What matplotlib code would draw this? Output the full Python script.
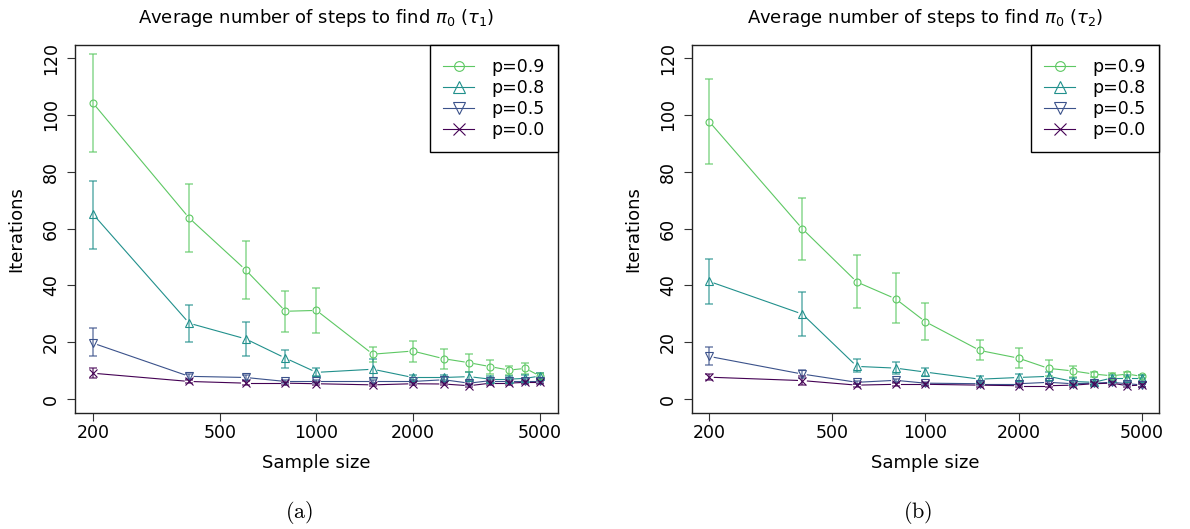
import numpy as np
import matplotlib
matplotlib.use("Agg")
import matplotlib.pyplot as plt
from matplotlib.lines import Line2D
from matplotlib.ticker import FixedLocator, FixedFormatter, NullLocator

plt.rcParams["font.family"] = ["DejaVu Sans"]

sample_size = [200, 400, 600, 800, 1000, 1500, 2000, 2500, 3000, 3500, 4000, 4500, 5000]
x_ticks = [200, 500, 1000, 2000, 5000]
y_ticks = [0, 20, 40, 60, 80, 100, 120]
labels = ["p=0.9", "p=0.8", "p=0.5", "p=0.0"]
colors = ["#5DC863", "#21908C", "#3B528B", "#440154"]
markers = ["o", "^", "v", "x"]
titles = [r"Average number of steps to find $\pi_0$ ($\tau_1$)",
          r"Average number of steps to find $\pi_0$ ($\tau_2$)"]
captions = ["(a)", "(b)"]

# panel (a), tau_1
tau1_p09 = [104.2, 63.7, 45.5, 30.9, 31.2, 15.8, 16.9, 14.2, 12.8, 11.4, 10.2, 10.8, 8.1]
tau1_p09_lo = [86.8, 51.6, 35.2, 23.6, 23.3, 13.0, 13.1, 10.6, 9.4, 9.0, 8.4, 8.7, 6.9]
tau1_p09_hi = [121.5, 75.8, 55.6, 37.9, 39.1, 18.5, 20.4, 17.6, 16.0, 13.8, 11.6, 12.8, 9.3]
tau1_p08 = [65.1, 26.7, 21.2, 14.4, 9.4, 10.5, 7.6, 7.6, 7.9, 7.0, 7.0, 7.3, 8.1]
tau1_p08_lo = [52.9, 20.1, 15.1, 11.0, 8.0, 7.5, 6.6, 6.6, 6.2, 6.0, 6.0, 6.2, 7.0]
tau1_p08_hi = [76.6, 33.0, 27.0, 17.4, 10.9, 14.0, 8.6, 8.6, 9.5, 8.0, 8.0, 8.4, 9.1]
tau1_p05 = [19.7, 8.0, 7.6, 6.2, 6.2, 6.2, 6.2, 6.8, 5.6, 6.5, 6.5, 6.5, 6.5]
tau1_p05_lo = [15.2, 7.0, 6.6, 5.6, 5.6, 5.6, 5.6, 6.0, 5.0, 5.8, 5.8, 5.8, 5.8]
tau1_p05_hi = [25.0, 9.0, 8.6, 6.8, 6.8, 6.8, 6.8, 7.6, 6.2, 7.2, 7.2, 7.2, 7.2]
tau1_p00 = [9.1, 6.2, 5.6, 5.6, 5.4, 5.0, 5.4, 5.3, 4.7, 5.6, 5.6, 5.9, 5.9]
tau1_p00_lo = [7.4, 5.6, 5.0, 5.1, 4.9, 4.6, 4.9, 4.8, 4.2, 5.0, 5.0, 5.3, 5.3]
tau1_p00_hi = [10.9, 6.8, 6.2, 6.1, 5.9, 5.4, 5.9, 5.8, 5.2, 6.2, 6.2, 6.5, 6.5]

# panel (b), tau_2
tau2_p09 = [97.6, 59.9, 41.2, 35.3, 27.2, 17.1, 14.4, 10.8, 9.9, 8.8, 8.2, 8.8, 8.0]
tau2_p09_lo = [82.7, 49.1, 31.9, 26.6, 20.9, 13.8, 10.9, 8.0, 7.9, 7.9, 7.3, 7.9, 7.3]
tau2_p09_hi = [112.6, 70.7, 50.7, 44.2, 33.8, 20.8, 17.9, 13.6, 11.8, 9.7, 9.1, 9.7, 8.6]
tau2_p08 = [41.4, 29.9, 11.5, 10.9, 9.5, 7.0, 7.6, 8.0, 6.2, 5.9, 7.4, 7.4, 7.4]
tau2_p08_lo = [33.4, 22.1, 9.5, 8.8, 8.0, 6.1, 6.2, 6.2, 5.0, 5.2, 6.5, 6.5, 6.5]
tau2_p08_hi = [49.3, 37.8, 14.1, 13.0, 11.1, 8.0, 8.9, 9.7, 7.4, 6.6, 8.3, 8.3, 8.3]
tau2_p05 = [15.0, 8.8, 5.9, 6.6, 5.6, 5.4, 5.4, 5.9, 5.4, 5.6, 5.9, 5.4, 5.0]
tau2_p05_lo = [12.1, 7.4, 5.3, 6.0, 5.1, 4.9, 4.9, 5.3, 4.9, 5.1, 5.3, 4.9, 4.4]
tau2_p05_hi = [18.5, 10.1, 6.5, 7.2, 6.1, 5.9, 5.9, 6.5, 5.9, 6.1, 6.5, 5.9, 5.6]
tau2_p00 = [7.7, 6.5, 4.9, 5.2, 5.2, 4.9, 4.7, 4.7, 4.9, 5.4, 5.6, 4.7, 4.9]
tau2_p00_lo = [6.6, 4.9, 4.4, 4.7, 4.7, 4.4, 4.2, 4.2, 4.4, 4.9, 5.1, 4.2, 4.4]
tau2_p00_hi = [8.8, 8.0, 5.4, 5.7, 5.7, 5.4, 5.2, 5.2, 5.4, 5.9, 6.1, 5.2, 5.4]


def gapped_line(ax, x, y, color, gap=5.0):
    """Join points like R's type='b': segments stop short of each point."""
    pts = ax.transData.transform(np.column_stack([x, y]))
    inv = ax.transData.inverted()
    for a, b in zip(pts[:-1], pts[1:]):
        d = b - a
        length = np.hypot(d[0], d[1])
        if length <= 2 * gap:
            continue
        u = d / length
        seg = inv.transform(np.array([a + u * gap, b - u * gap]))
        ax.plot(seg[:, 0], seg[:, 1], color=color, lw=0.8, zorder=2)


def draw_panel(ax, series, title, caption, cap_x):
    ax.set_xscale("log")
    ax.set_xlim(175.8, 5690)
    ax.set_ylim(-4.9, 124.6)
    for (mean, lo, hi), color, marker in zip(series, colors, markers):
        mean = np.array(mean)
        err = [mean - np.array(lo), np.array(hi) - mean]
        ax.errorbar(sample_size, mean, yerr=err, fmt="none", ecolor=color,
                    elinewidth=1.3, capsize=2.9, capthick=1.3, alpha=0.6, zorder=3)
        ms = 5 if marker == "o" else 6
        ax.plot(sample_size, mean, linestyle="none", marker=marker, ms=ms,
                mfc="none", mec=color, mew=0.8, zorder=4)
        gapped_line(ax, sample_size, mean, color)

    ax.xaxis.set_major_locator(FixedLocator(x_ticks))
    ax.xaxis.set_major_formatter(FixedFormatter([str(t) for t in x_ticks]))
    ax.xaxis.set_minor_locator(NullLocator())
    ax.set_yticks(y_ticks)
    ax.tick_params(axis="both", length=5.8, width=0.8, colors="#333333",
                   labelcolor="black", labelsize=12.5)
    ax.tick_params(axis="x", pad=2)
    ax.tick_params(axis="y", pad=5, labelrotation=90)
    for lab in ax.get_yticklabels():
        lab.set_va("center")
    for sp in ax.spines.values():
        sp.set_linewidth(1.0)
        sp.set_color("#222222")

    ax.set_xlabel("Sample size", fontsize=13, labelpad=9)
    ax.set_ylabel("Iterations", fontsize=13, labelpad=12)
    ax.set_title(title, fontsize=13, pad=16, math_fontfamily="dejavusans")

    handles = [Line2D([], [], color=c, marker=m, ms=(7 if m == "o" else 8),
                      mfc="none", mew=0.8, lw=0.8)
               for c, m in zip(colors, markers)]
    leg = ax.legend(handles, labels, loc="upper right", borderaxespad=0,
                    fontsize=12.5, fancybox=False, framealpha=1, edgecolor="black",
                    handlelength=1.8, handletextpad=1.0, labelspacing=0.17,
                    borderpad=0.75)
    leg.get_frame().set_linewidth(1.0)

    ax.figure.text(cap_x, 1 - 513 / 529, r"$\mathrm{" + caption + "}$",
                   ha="center", va="center", fontsize=16, math_fontfamily="cm")


def main():
    fig = plt.figure(figsize=(11.9, 5.29), dpi=100)
    ax1 = fig.add_axes([75 / 1190, 1 - 413 / 529, 483 / 1190, 368 / 529])
    ax2 = fig.add_axes([692 / 1190, 1 - 413 / 529, 467 / 1190, 368 / 529])

    series1 = [(tau1_p09, tau1_p09_lo, tau1_p09_hi),
               (tau1_p08, tau1_p08_lo, tau1_p08_hi),
               (tau1_p05, tau1_p05_lo, tau1_p05_hi),
               (tau1_p00, tau1_p00_lo, tau1_p00_hi)]
    series2 = [(tau2_p09, tau2_p09_lo, tau2_p09_hi),
               (tau2_p08, tau2_p08_lo, tau2_p08_hi),
               (tau2_p05, tau2_p05_lo, tau2_p05_hi),
               (tau2_p00, tau2_p00_lo, tau2_p00_hi)]

    draw_panel(ax1, series1, titles[0], captions[0], 299 / 1190)
    draw_panel(ax2, series2, titles[1], captions[1], 918 / 1190)

    fig.savefig("out.png", dpi=100)


if __name__ == "__main__":
    main()
